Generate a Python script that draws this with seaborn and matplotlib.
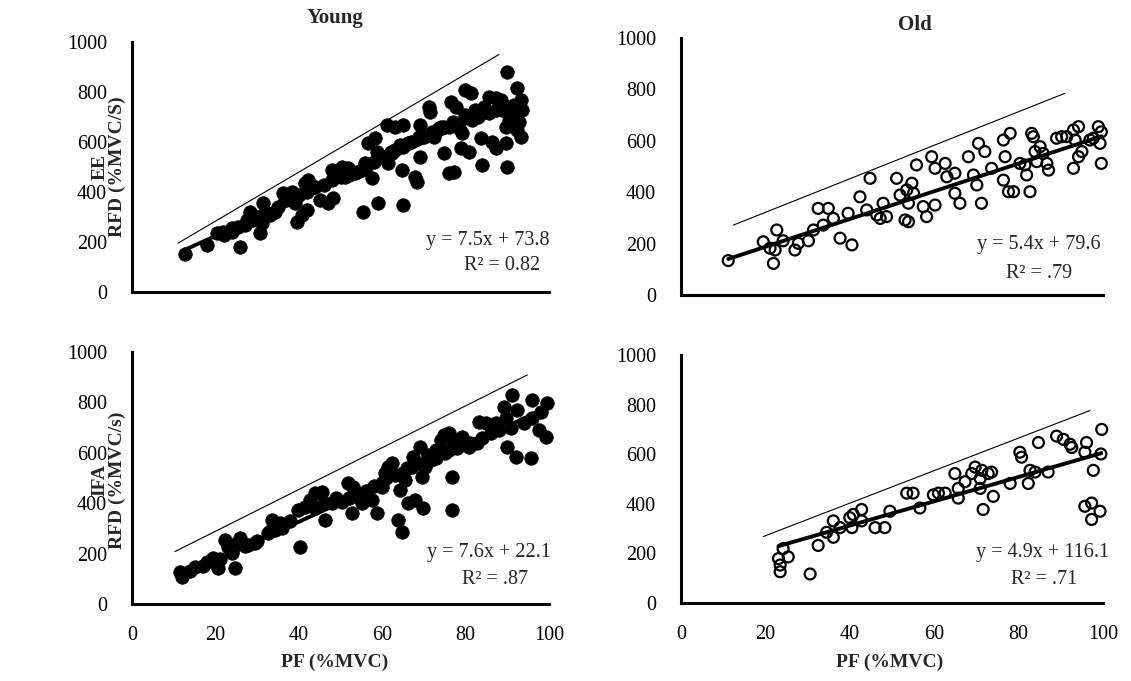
import numpy as np
import pandas as pd
import matplotlib
matplotlib.use("Agg")
import matplotlib.pyplot as plt
import seaborn as sns

# ---------------- data ----------------
# Young, EE
young_ee_pf = [12.7, 17.9, 20.3, 21.9, 25.9, 23.9, 25.5, 27.5, 28.3, 30.7, 31.1, 31.5, 34.3,
               36.3, 36.7, 38.3, 39.1, 39.5, 40.7, 41.9, 41.5, 42.3, 43.5, 45.1, 47.1, 48.3,
               47.9, 50.3, 51.9, 51.1, 53.5, 55.1, 55.9, 55.5, 59.1, 57.5, 56.7, 58.3, 58.7,
               60.7, 61.5, 61.1, 63.1, 65.1, 62.3, 64.3, 66.3, 65.1, 64.7, 67.9, 68.3, 69.1,
               68.8, 69.1, 71.2, 71.5, 72.4, 73.6, 74.8, 74.8, 76.4, 77.6, 76.0, 78.4, 79.2,
               78.8, 80.8, 76.0, 77.2, 79.9, 81.2, 79.9, 81.5, 82.3, 83.6, 84.0, 84.4, 85.6,
               87.2, 88.4, 85.6, 87.2, 88.8, 86.4, 87.2, 89.6, 90.0, 90.0, 89.6, 90.4, 92.4,
               93.2, 93.6, 92.8, 93.2, 92.4, 91.2, 91.6,
               22, 24, 27, 29, 30, 32, 33, 35, 37, 38, 40, 42, 44, 46, 48, 50, 52, 54, 56, 58,
               60, 62, 63, 65, 67, 70, 72, 74, 77, 80, 83, 85, 88, 90]
young_ee_rfd = [152, 188, 235, 241, 181, 255, 261, 288, 321, 235, 275, 355, 321,
                395, 368, 401, 355, 281, 308, 328, 435, 448, 421, 368, 355, 375,
                488, 501, 495, 461, 475, 488, 515, 321, 355, 455, 595, 615, 561,
                541, 515, 668, 661, 668, 555, 588, 595, 348, 488, 461, 441, 541,
                621, 668, 741, 721, 621, 655, 661, 555, 761, 741, 661, 655, 635,
                575, 561, 475, 481, 808, 795, 708, 688, 728, 615, 508, 741, 781,
                775, 768, 715, 728, 728, 601, 575, 595, 501, 881, 661, 688, 815,
                768, 728, 681, 621, 648, 715, 748,
                230, 240, 270, 290, 300, 320, 310, 340, 370, 380, 390, 400, 420, 430, 450, 460,
                470, 480, 500, 520, 540, 560, 570, 580, 600, 620, 640, 660, 680, 700, 700, 720,
                740, 740]

# Old, EE
old_ee_pf = [11.2, 19.5, 21.1, 22.3, 22.7, 24.2, 21.9, 27.0, 27.8, 30.2, 31.4, 33.7, 36.1,
             32.5, 34.9, 37.7, 40.5, 39.6, 42.4, 44.0, 44.8, 46.4, 47.2, 48.7, 47.9, 51.1,
             51.9, 53.1, 53.9, 53.5, 53.9, 54.7, 55.1, 55.8, 57.4, 58.2, 60.2, 59.4, 60.2,
             62.6, 63.0, 64.9, 64.9, 66.1, 68.1, 69.3, 70.1, 70.5, 71.2, 72.0, 73.6, 76.4,
             76.8, 78.0, 76.4, 77.6, 78.8, 80.3, 81.5, 81.9, 82.7, 83.1, 83.5, 83.9, 85.1,
             85.8, 84.3, 86.7, 87.1, 89.0, 90.2, 91.4, 93.0, 94.2, 93.4, 93.0, 94.2, 95.0,
             96.9, 97.7, 98.9, 99.3, 99.6, 99.6]
old_ee_rfd = [134, 207, 182, 175, 253, 211, 123, 175, 201, 211, 253, 272, 298,
              337, 337, 221, 195, 318, 382, 331, 454, 311, 298, 305, 357, 454,
              389, 292, 285, 409, 357, 435, 396, 506, 344, 305, 350, 538, 493,
              512, 460, 474, 396, 357, 538, 467, 428, 590, 357, 558, 493, 603,
              538, 629, 447, 402, 402, 512, 506, 467, 402, 629, 616, 558, 577,
              551, 519, 512, 486, 610, 616, 616, 642, 655, 603, 493, 538, 558,
              603, 610, 655, 590, 635, 512]

# Young, IFA
young_ifa_pf = [11.5, 11.9, 15.1, 17.9, 19.5, 20.7, 24.7, 22.3, 23.1, 23.9, 25.9, 25.1, 27.9,
                29.5, 33.5, 35.5, 32.7, 34.3, 40.3, 39.9, 41.5, 42.7, 43.9, 45.5, 46.3, 47.9,
                50.3, 51.9, 53.1, 54.3, 52.7, 55.1, 57.5, 58.7, 59.9, 60.7, 62.3, 61.5, 63.9,
                64.7, 64.3, 65.5, 67.1, 66.3, 67.5, 69.1, 69.5, 70.3, 69.9, 67.9, 71.6, 72.8,
                74.0, 74.8, 76.0, 76.8, 76.8, 77.2, 79.2, 80.8, 82.8, 83.2, 84.8, 87.2, 89.2,
                89.6, 91.2, 92.4, 90.0, 92.0, 95.6, 96.0, 97.6, 99.2, 99.6,
                14, 17, 21, 24, 27, 30, 33, 36, 38, 44, 46, 49, 52, 54, 56, 58, 60, 61, 63, 65,
                66, 68, 70, 71, 73, 75, 76, 78, 81, 84, 86, 88, 91, 94, 96, 98]
young_ifa_rfd = [128, 108, 148, 168, 181, 142, 142, 254, 227, 201, 261, 241, 234,
                 241, 333, 320, 281, 294, 227, 373, 386, 413, 439, 446, 333, 399,
                 406, 479, 465, 426, 360, 399, 413, 360, 465, 519, 558, 545, 333,
                 287, 452, 492, 545, 399, 585, 624, 505, 545, 380, 413, 571, 611,
                 651, 671, 677, 505, 373, 651, 664, 624, 638, 723, 717, 717, 783,
                 737, 829, 770, 624, 585, 578, 810, 690, 664, 796,
                 130, 150, 180, 210, 230, 250, 290, 300, 330, 380, 400, 420, 420, 440, 450, 470,
                 480, 500, 510, 520, 540, 560, 560, 590, 580, 600, 610, 620, 640, 660, 680, 690,
                 700, 720, 740, 760]

# Old, IFA
old_ifa_pf = [23.5, 23.5, 23.1, 25.4, 24.2, 30.6, 32.5, 34.5, 36.1, 36.1, 37.7, 40.5, 40.0,
              40.8, 42.8, 42.8, 46.0, 48.3, 49.5, 53.5, 55.0, 56.6, 59.8, 61.0, 62.6, 64.9,
              65.7, 65.7, 67.3, 68.9, 69.7, 71.3, 70.9, 71.6, 74.0, 70.9, 72.8, 73.6, 78.0,
              80.3, 80.7, 82.3, 82.7, 83.9, 84.7, 87.0, 89.0, 90.6, 92.2, 92.6, 96.1, 95.7,
              97.7, 99.7, 99.5, 95.7, 97.3, 97.3, 99.3]
old_ifa_rfd = [126, 153, 179, 186, 219, 117, 232, 285, 331, 265, 304, 304, 344,
               357, 377, 331, 304, 304, 370, 443, 443, 383, 436, 443, 443, 522,
               462, 423, 489, 522, 548, 535, 502, 377, 430, 462, 522, 528, 482,
               608, 588, 482, 535, 528, 647, 528, 673, 660, 640, 627, 647, 608,
               535, 700, 601, 390, 403, 337, 370]

# fitted lines: (slope, intercept, R² label)
fits = {
    "young_ee": (7.5, 73.8, "0.82"),
    "old_ee": (5.4, 79.6, ".79"),
    "young_ifa": (7.6, 22.1, ".87"),
    "old_ifa": (4.9, 116.1, ".71"),
}

# thin reference lines (endpoints)
ref_young_ee_x, ref_young_ee_y = [11, 88], [195, 950]
ref_old_ee_x, ref_old_ee_y = [12.4, 91.0], [272, 785]
ref_young_ifa_x, ref_young_ifa_y = [10.3, 94.8], [208, 909]
ref_old_ifa_x, ref_old_ifa_y = [19.5, 96.9], [268, 776]

y_ticks = [0, 200, 400, 600, 800, 1000]
x_ticks = [0, 20, 40, 60, 80, 100]

# ---------------- style ----------------
sns.set_theme(style="white")
plt.rcParams["font.family"] = ["Liberation Serif", "DejaVu Serif"]

W, H = 1131, 681
fig = plt.figure(figsize=(W / 100, H / 100), dpi=100)


def px_axes(x0, x1, y0, y1):
    """x0/x1: pixel columns of x=0 and x=100; y0/y1: pixel rows of y=0 and y=1000."""
    return fig.add_axes([x0 / W, (H - y0) / H, (x1 - x0) / W, (y0 - y1) / H])


panels = [
    dict(key="young_ee", pf=young_ee_pf, rfd=young_ee_rfd, filled=True,
         ref=(ref_young_ee_x, ref_young_ee_y), box=(132, 549, 292, 42),
         eq_pos=(488, 240), r_pos=(502, 265), xlabels=False),
    dict(key="old_ee", pf=old_ee_pf, rfd=old_ee_rfd, filled=False,
         ref=(ref_old_ee_x, ref_old_ee_y), box=(681, 1103, 295, 38),
         eq_pos=(1039, 245), r_pos=(1039, 273), xlabels=False),
    dict(key="young_ifa", pf=young_ifa_pf, rfd=young_ifa_rfd, filled=True,
         ref=(ref_young_ifa_x, ref_young_ifa_y), box=(132, 549, 604, 352),
         eq_pos=(489, 553), r_pos=(495, 580), xlabels=True),
    dict(key="old_ifa", pf=old_ifa_pf, rfd=old_ifa_rfd, filled=False,
         ref=(ref_old_ifa_x, ref_old_ifa_y), box=(681, 1103, 603, 355),
         eq_pos=(1043, 553), r_pos=(1044, 580), xlabels=True),
]

for p in panels:
    ax = px_axes(*p["box"])
    df = pd.DataFrame({"pf": p["pf"], "rfd": p["rfd"]})
    if p["filled"]:
        sns.scatterplot(data=df, x="pf", y="rfd", ax=ax, s=95, color="black",
                        edgecolor="black", linewidth=0.5, zorder=3, clip_on=False)
    else:
        sns.scatterplot(data=df, x="pf", y="rfd", ax=ax, s=62, facecolor="none",
                        edgecolor="black", linewidth=1.6, zorder=3, clip_on=False)

    slope, intercept, r2 = fits[p["key"]]
    xs = np.array([min(p["pf"]), max(p["pf"])])
    fit_df = pd.DataFrame({"pf": xs, "rfd": slope * xs + intercept})
    sns.lineplot(data=fit_df, x="pf", y="rfd", ax=ax, color="black", linewidth=2.8, zorder=4)

    ref_df = pd.DataFrame({"pf": p["ref"][0], "rfd": p["ref"][1]})
    sns.lineplot(data=ref_df, x="pf", y="rfd", ax=ax, color="black", linewidth=0.8, zorder=2)

    ax.set_xlim(0, 100)
    ax.set_ylim(0, 1000)
    ax.set_yticks(y_ticks)
    ax.set_xticks(x_ticks)
    ax.tick_params(axis="both", length=0, labelsize=14.5, labelcolor="black")
    ax.tick_params(axis="y", pad=18)
    ax.tick_params(axis="x", pad=16)
    if not p["xlabels"]:
        ax.set_xticklabels([])
    ax.set_xlabel("")
    ax.set_ylabel("")
    for side in ("top", "right"):
        ax.spines[side].set_visible(False)
    for side in ("left", "bottom"):
        ax.spines[side].set_color("black")
        ax.spines[side].set_linewidth(2.2)
    ax.set_facecolor("white")

    fig.text(p["eq_pos"][0] / W, 1 - p["eq_pos"][1] / H,
             f"y = {slope}x + {intercept}", ha="center", va="center", fontsize=14.5)
    fig.text(p["r_pos"][0] / W, 1 - p["r_pos"][1] / H,
             f"R² = {r2}", ha="center", va="center", fontsize=14.5)

# column titles
fig.text(335 / W, 1 - 18 / H, "Young", ha="center", va="center", fontsize=15, fontweight="bold")
fig.text(915 / W, 1 - 25 / H, "Old", ha="center", va="center", fontsize=15, fontweight="bold")

# row labels
fig.text(109 / W, 1 - 167 / H, "EE\nRFD (%MVC/S)", ha="center", va="center", rotation=90,
         fontsize=14, fontweight="bold", linespacing=1.05, multialignment="center")
fig.text(109 / W, 1 - 480 / H, "IFA\nRFD (%MVC/s)", ha="center", va="center", rotation=90,
         fontsize=14, fontweight="bold", linespacing=1.05, multialignment="center")

# x-axis labels
fig.text(335 / W, 1 - 662 / H, "PF (%MVC)", ha="center", va="center", fontsize=14, fontweight="bold")
fig.text(890 / W, 1 - 662 / H, "PF (%MVC)", ha="center", va="center", fontsize=14, fontweight="bold")

fig.savefig("out.png", dpi=100, facecolor="white")
